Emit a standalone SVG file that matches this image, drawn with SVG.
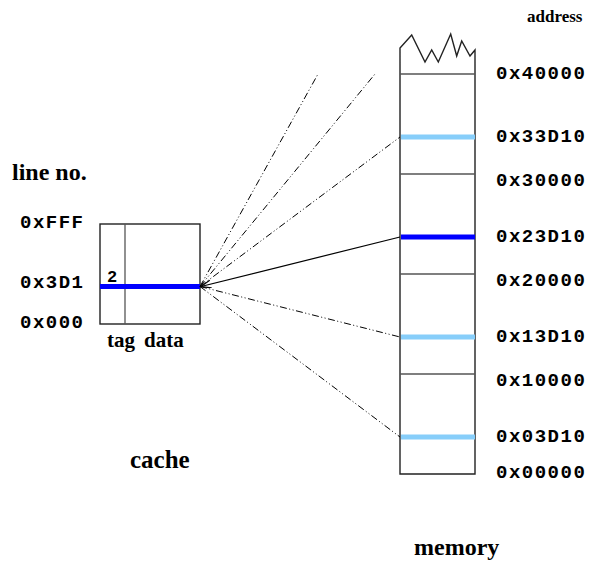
<svg xmlns="http://www.w3.org/2000/svg" width="589" height="569" viewBox="0 0 589 569">
<style>
.mono{font-family:"Liberation Mono","Courier New",monospace;font-weight:bold;font-size:19px;letter-spacing:1.5px;fill:#000}
.serif{font-family:"Liberation Serif","Times New Roman",serif;font-weight:bold;fill:#000}
.frame{fill:none;stroke:#222;stroke-width:1.4}
.div{stroke:#555;stroke-width:1.3}
.hl{stroke:#87CEFA;stroke-width:5}
.hd{stroke:#0000FF;stroke-width:5}
.dd{fill:none;stroke:#000;stroke-width:1;stroke-dasharray:7 2.5 1 2.5 1 2.5}
</style>
<defs>
<marker id="arr" markerUnits="userSpaceOnUse" markerWidth="12" markerHeight="10" refX="10" refY="4" orient="auto">
<path d="M0,0 L10,4 L0,8" fill="none" stroke="#000" stroke-width="1.2"/>
</marker>
</defs>
<g id="memory">
<path class="frame" d="M400,474 L400,48 L411.7,35 L425,62 L431.7,50 L438.3,62 L450.7,34 L456.7,56 L461.7,41 L470,56 L475,50 L475,474 Z"/>
<line class="div" x1="400" y1="74" x2="475" y2="74"/>
<line class="div" x1="400" y1="174" x2="475" y2="174"/>
<line class="div" x1="400" y1="274" x2="475" y2="274"/>
<line class="div" x1="400" y1="374" x2="475" y2="374"/>
<line class="hl" x1="401" y1="137" x2="475" y2="137"/>
<line class="hd" x1="401" y1="237" x2="475" y2="237"/>
<line class="hl" x1="401" y1="337" x2="475" y2="337"/>
<line class="hl" x1="401" y1="437" x2="475" y2="437"/>
<text class="serif" x="527" y="22" font-size="17">address</text>
<text class="mono" x="496" y="79">0x40000</text>
<text class="mono" x="496" y="142">0x33D10</text>
<text class="mono" x="496" y="186">0x30000</text>
<text class="mono" x="496" y="242">0x23D10</text>
<text class="mono" x="496" y="286">0x20000</text>
<text class="mono" x="496" y="342">0x13D10</text>
<text class="mono" x="496" y="386">0x10000</text>
<text class="mono" x="496" y="442">0x03D10</text>
<text class="mono" x="496" y="478">0x00000</text>
<text class="serif" x="414" y="555" font-size="24">memory</text>
</g>
<g id="cache">
<rect class="frame" x="100" y="224" width="100" height="100"/>
<line class="div" x1="125" y1="224" x2="125" y2="324"/>
<line class="hd" x1="100" y1="286.5" x2="200" y2="286.5"/>
<text class="mono" x="107" y="282" style="font-size:17px">2</text>
<text class="mono" x="20" y="228">0xFFF</text>
<text class="mono" x="20" y="288">0x3D1</text>
<text class="mono" x="20" y="328">0x000</text>
<text class="serif" x="107" y="347" font-size="21">tag</text>
<text class="serif" x="144" y="347" font-size="21">data</text>
<text class="serif" x="12" y="180" font-size="24">line no.</text>
<text class="serif" x="130" y="468" font-size="25">cache</text>
</g>
<g id="connectors">
<line class="dd" x1="200" y1="286.5" x2="318" y2="74"/>
<line class="dd" x1="200" y1="286.5" x2="375" y2="74"/>
<line class="dd" x1="200" y1="286.5" x2="400" y2="137"/>
<line class="dd" x1="200" y1="286.5" x2="400" y2="337"/>
<line class="dd" x1="200" y1="286.5" x2="400" y2="437"/>
<line x1="400" y1="237" x2="201" y2="286.5" stroke="#000" stroke-width="1.2" marker-end="url(#arr)"/>
</g>
</svg>
